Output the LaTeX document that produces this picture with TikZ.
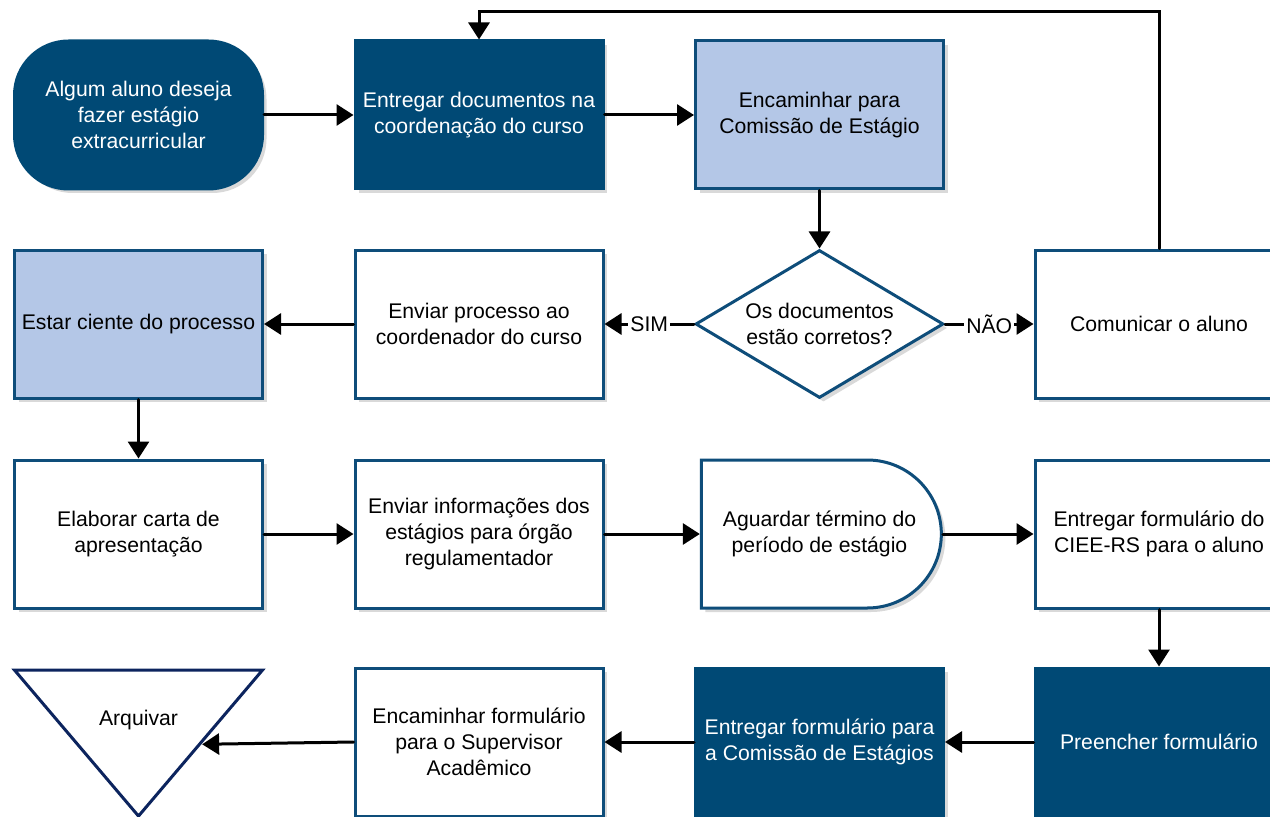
\documentclass[tikz,border=0pt]{standalone}
\usepackage{fontspec}
\setmainfont{Liberation Sans}
\usetikzlibrary{shapes.geometric,shapes.misc,shadows,arrows.meta}
\definecolor{azulesc}{RGB}{0,73,117}
\definecolor{azulcla}{RGB}{180,199,231}
\definecolor{azulborda}{RGB}{14,77,122}
\definecolor{marinho}{RGB}{12,36,94}
\begin{document}
\begin{tikzpicture}
	[x=0.5pt,y=0.5pt,
	every node/.style={font=\fontsize{10.6}{13}\selectfont,align=center},
	base/.style={draw=azulborda,line width=1.5pt,minimum width=124pt,minimum height=74pt,inner sep=2pt,
		drop shadow={shadow xshift=2pt,shadow yshift=-2pt,opacity=0.3}},
	box/.style={base,rectangle,fill=white},
	clara/.style={box,fill=azulcla},
	escura/.style={box,fill=azulesc,draw=azulesc,text=white},
	inicio/.style={base,rectangle,rounded corners=27pt,fill=azulesc,draw=azulesc,text=white},
	decisao/.style={base,diamond,aspect=1.67,inner sep=0pt,fill=white},
	espera/.style={base,rounded rectangle,rounded rectangle left arc=none,fill=white},
	arquivo/.style={draw=marinho,line width=1.5pt,fill=white,isosceles triangle,isosceles triangle stretches,
		shape border rotate=270,minimum width=124pt,minimum height=73pt,inner sep=0pt},
	flow/.style={-{Triangle[length=8.5pt,width=10.5pt]},line width=1.5pt,line cap=round},
	rot/.style={fill=white,inner sep=1pt}
	]
	\clip (0,0) rectangle (1270,816);

	% linha 1
	\node[inicio] (aluno) at (138.5,701) {Algum aluno deseja\\fazer estágio\\extracurricular};
	\node[escura] (entdoc) at (479,701) {Entregar documentos na\\coordenação do curso};
	\node[clara] (encam) at (819.5,701) {Encaminhar para\\Comissão de Estágio};

	% linha 2
	\node[clara] (ciente) at (138.5,492) {Estar ciente do processo};
	\node[box] (envproc) at (479,492) {Enviar processo ao\\coordenador do curso};
	\node[decisao] (docok) at (819.5,492) {Os documentos\\estão corretos?};
	\node[box] (comunica) at (1159,492) {Comunicar o aluno};

	% linha 3
	\node[box] (carta) at (138.5,282) {Elaborar carta de\\apresentação};
	\node[box] (envinfo) at (479,282) {Enviar informações dos\\estágios para órgão\\regulamentador};
	\node[espera] (aguarda) at (819.5,282) {Aguardar término do\\período de estágio};
	\node[box] (ciee) at (1159,282) {Entregar formulário do\\CIEE-RS para o aluno};

	% linha 4
	\node[arquivo,anchor=apex] (arq) at (138.5,-4) {};
	\node (arqtxt) at (138.5,96) {Arquivar};
	\node[box] (encform) at (479,74) {Encaminhar formulário\\para o Supervisor\\Acadêmico};
	\node[escura] (entform) at (819.5,74) {Entregar formulário para\\a Comissão de Estágios};
	\node[escura] (preenche) at (1159,74) {Preencher formulário};

	\coordinate (volta) at (479,804);

	\draw[flow] (aluno.east) -- (entdoc.west);
	\draw[flow] (entdoc.east) -- (encam.west);
	\draw[flow] (encam) -- (docok);
	\draw[flow] (docok.west) -- node[rot]{SIM} (envproc.east);
	\draw[flow] (docok.east) -- node[rot]{NÃO} (comunica.west);
	\draw[flow] (comunica.north) |- (volta) -- (entdoc.north);
	\draw[flow] (envproc.west) -- (ciente.east);
	\draw[flow] (ciente) -- (carta);
	\draw[flow] (carta.east) -- (envinfo.west);
	\draw[flow] (envinfo.east) -- (aguarda.west);
	\draw[flow] (aguarda.east) -- (ciee.west);
	\draw[flow] (ciee) -- (preenche);
	\draw[flow] (preenche.west) -- (entform.east);
	\draw[flow] (entform.west) -- (encform.east);
	\draw[flow] (encform.west) -- (arq.left side);
\end{tikzpicture}
\end{document}
